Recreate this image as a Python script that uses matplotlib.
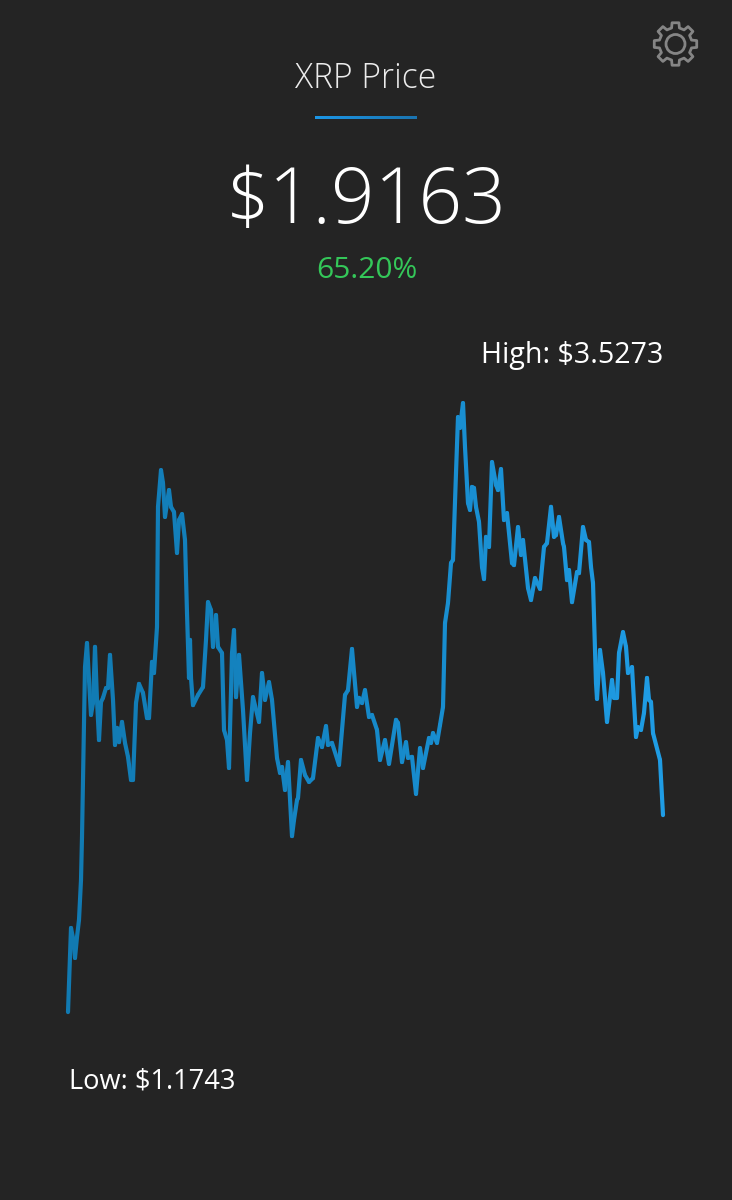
import numpy as np
import matplotlib
matplotlib.use("Agg")
import matplotlib.pyplot as plt
from matplotlib.collections import LineCollection
from matplotlib.colors import LinearSegmentedColormap
from matplotlib.patches import Polygon, Circle

title = "XRP Price"
current_price = "$1.9163"
change_label = "65.20%"
high_label = "High: $3.5273"
low_label = "Low: $1.1743"
price_low = 1.1743
price_high = 3.5273

# time position along the chart (arbitrary units)
times = [0, 3, 5, 7, 9, 11, 13, 14, 16, 17, 19, 21, 23, 25, 27, 29, 31, 33, 35, 38, 40, 42, 45, 47, 49, 51, 54, 57, 60,
         63, 65, 68, 71, 75, 79, 81, 84, 86, 89, 90, 93, 95, 97, 101, 103, 106, 109, 111, 114, 117, 119, 121, 122,
         123, 125, 130, 135, 138, 140, 143, 145, 148, 150, 154, 156, 159, 161, 164, 166, 168, 171, 175, 179, 182,
         185, 191, 194, 197, 201, 204, 209, 212, 214, 217, 220, 224, 226, 229, 230, 233, 237, 241, 245, 250, 254,
         258, 260, 264, 271, 277, 280, 284, 289, 291, 294, 297, 301, 304, 309, 312, 317, 321, 328, 330, 334, 338,
         340, 344, 348, 352, 355, 361, 363, 365, 369, 372, 375, 377, 380, 383, 385, 388, 390, 392, 395, 397, 400,
         402, 404, 406, 408, 411, 414, 416, 418, 421, 424, 428, 430, 433, 436, 439, 444, 446, 450, 453, 455, 460,
         463, 467, 472, 476, 479, 483, 486, 488, 491, 495, 496, 499, 501, 504, 509, 511, 515, 518, 521, 523, 525,
         528, 529, 532, 535, 539, 544, 546, 549, 551, 555, 558, 560, 564, 568, 570, 573, 576, 579, 581, 583, 585,
         592, 595]
prices = [1.174, 1.499, 1.460, 1.383, 1.464, 1.530, 1.684, 1.850, 2.291, 2.507, 2.600, 2.457, 2.322, 2.368, 2.585,
          2.380, 2.225, 2.372, 2.388, 2.426, 2.426, 2.554, 2.380, 2.206, 2.272, 2.217, 2.295, 2.214, 2.160, 2.071,
          2.071, 2.368, 2.442, 2.407, 2.310, 2.310, 2.527, 2.484, 2.662, 3.126, 3.268, 3.218, 3.087, 3.191, 3.126,
          3.106, 2.948, 3.075, 3.098, 2.998, 2.716, 2.465, 2.612, 2.465, 2.360, 2.399, 2.430, 2.612, 2.758, 2.727,
          2.585, 2.708, 2.585, 2.561, 2.264, 2.225, 2.117, 2.561, 2.650, 2.391, 2.554, 2.341, 2.071, 2.252, 2.391,
          2.295, 2.484, 2.380, 2.449, 2.380, 2.156, 2.098, 2.121, 2.032, 2.140, 1.854, 1.916, 1.993, 2.001, 2.148,
          2.090, 2.063, 2.078, 2.233, 2.198, 2.279, 2.206, 2.214, 2.129, 2.399, 2.418, 2.577, 2.353, 2.388, 2.368,
          2.418, 2.314, 2.322, 2.264, 2.148, 2.225, 2.133, 2.303, 2.291, 2.140, 2.217, 2.156, 2.160, 2.017, 2.194,
          2.117, 2.233, 2.214, 2.252, 2.214, 2.283, 2.353, 2.677, 2.755, 2.909, 2.921, 3.257, 3.473, 3.431, 3.527,
          3.357, 3.141, 3.114, 3.203, 3.199, 3.126, 3.068, 2.894, 2.847, 3.010, 2.971, 3.299, 3.211, 3.191, 3.272,
          3.075, 3.102, 2.909, 2.901, 3.048, 2.940, 2.998, 2.813, 2.766, 2.851, 2.809, 2.971, 2.986, 3.126, 3.010,
          3.017, 3.087, 2.986, 2.971, 2.843, 2.882, 2.758, 2.874, 2.870, 3.048, 2.998, 2.990, 2.894, 2.832, 2.445,
          2.384, 2.573, 2.484, 2.295, 2.457, 2.388, 2.388, 2.561, 2.642, 2.585, 2.484, 2.507, 2.237, 2.275, 2.264,
          2.330, 2.465, 2.380, 2.372, 2.252, 2.148, 1.935]

W, H = 732, 1200
BG = "#242424"
plt.rcParams["font.family"] = ["Open Sans", "DejaVu Sans"]

fig = plt.figure(figsize=(W / 100, H / 100), dpi=100, facecolor=BG)


def fx(px):
    return px / W


def fy(py):
    return 1 - py / H


# price chart, scaled between the stated low and high
ax = fig.add_axes([fx(68), fy(1012), 595 / W, 609 / H])
ax.set_xlim(0, 595)
ax.set_ylim(price_low, price_high)
ax.axis("off")
t = np.array(times, dtype=float)
p = np.array(prices)
pts = np.column_stack([t, p])
segs = np.stack([pts[:-1], pts[1:]], axis=1)
line_cmap = LinearSegmentedColormap.from_list("line", ["#117ab2", "#1688c8", "#1f9ce4"])
lc = LineCollection(segs, cmap=line_cmap, linewidths=3.0, capstyle="round", joinstyle="round", clip_on=False)
lc.set_array((t[:-1] + t[1:]) / 2 / 595)
ax.add_collection(lc)

# overlay in pixel coordinates for header decorations
ov = fig.add_axes([0, 0, 1, 1], facecolor="none")
ov.set_xlim(0, W)
ov.set_ylim(H, 0)
ov.axis("off")

# underline under the title
ul_cmap = LinearSegmentedColormap.from_list("ul", ["#1c96e6", "#1a74b0"])
ov.imshow(np.linspace(0, 1, 100)[None, :], extent=(315, 417, 119, 116), cmap=ul_cmap, aspect="auto", zorder=2)
ov.set_xlim(0, W)
ov.set_ylim(H, 0)

# gear icon
cx, cy = 675.5, 44
n_teeth = 8
ro, ri = 21.5, 16.5
gear = []
for i in range(n_teeth):
    a = 2 * np.pi * i / n_teeth - np.pi / 2
    hw_o, hw_i = 0.16, 0.24
    for r, d in [(ri, -hw_i), (ro, -hw_o), (ro, hw_o), (ri, hw_i)]:
        gear.append((cx + r * np.cos(a + d), cy + r * np.sin(a + d)))
ov.add_patch(Polygon(gear, closed=True, fill=False, ec="#858585", lw=2.0, joinstyle="round"))
ov.add_patch(Circle((cx, cy), 9.5, fill=False, ec="#858585", lw=2.0))

fig.text(fx(366), fy(79), title, color="#ececec", fontsize=24.2, fontweight="light", ha="center", va="center")
fig.text(fx(366.5), fy(203), current_price, color="white", fontsize=55.3, fontweight="light", ha="center", va="center")
fig.text(fx(366.5), fy(270), change_label, color="#34c759", fontsize=21.5, ha="center", va="center")
fig.text(fx(663), fy(355), high_label, color="white", fontsize=20.6, ha="right", va="center")
fig.text(fx(69), fy(1082), low_label, color="white", fontsize=19.6, ha="left", va="center")

assert len(times) == len(prices)
fig.savefig("out.png", dpi=100, facecolor=BG)
